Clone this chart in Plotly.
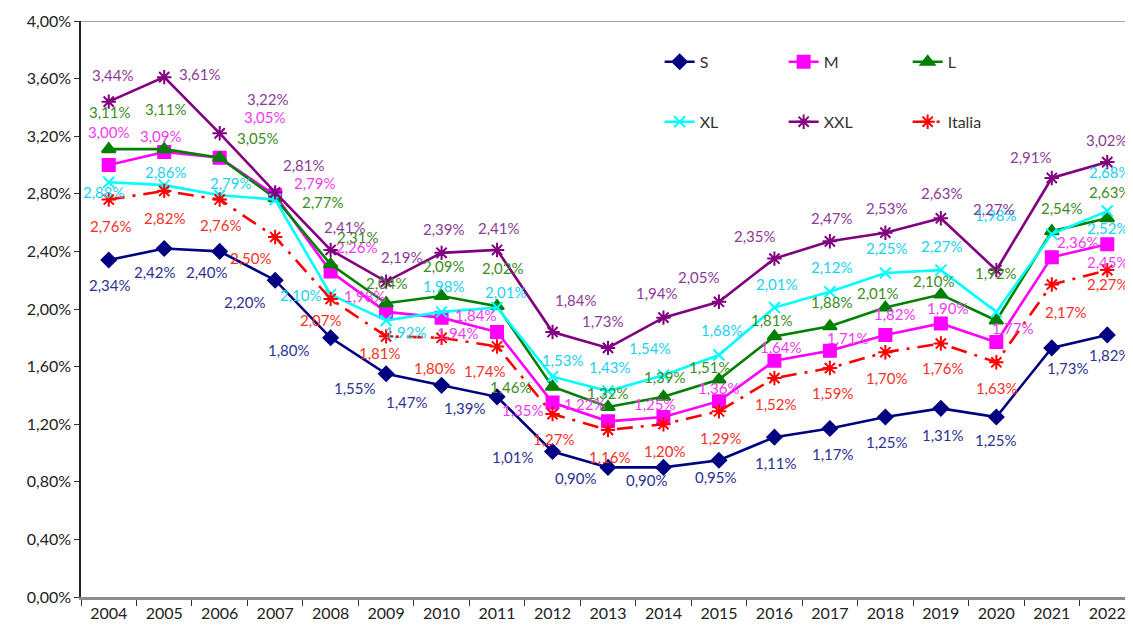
import plotly.graph_objects as go

years = [str(y) for y in range(2004, 2023)]

S = [2.34, 2.42, 2.40, 2.20, 1.80, 1.55, 1.47, 1.39, 1.01, 0.90, 0.90, 0.95, 1.11, 1.17, 1.25, 1.31, 1.25, 1.73, 1.82]
M = [3.00, 3.09, 3.05, 2.79, 2.26, 1.98, 1.94, 1.84, 1.35, 1.22, 1.25, 1.36, 1.64, 1.71, 1.82, 1.90, 1.77, 2.36, 2.45]
L = [3.11, 3.11, 3.05, 2.77, 2.31, 2.04, 2.09, 2.02, 1.46, 1.32, 1.39, 1.51, 1.81, 1.88, 2.01, 2.10, 1.92, 2.54, 2.63]
XL = [2.88, 2.86, 2.79, 2.76, 2.10, 1.92, 1.98, 2.01, 1.53, 1.43, 1.54, 1.68, 2.01, 2.12, 2.25, 2.27, 1.98, 2.52, 2.68]
XXL = [3.44, 3.61, 3.22, 2.81, 2.41, 2.19, 2.39, 2.41, 1.84, 1.73, 1.94, 2.05, 2.35, 2.47, 2.53, 2.63, 2.27, 2.91, 3.02]
ITALIA = [2.76, 2.82, 2.76, 2.50, 2.07, 1.81, 1.80, 1.74, 1.27, 1.16, 1.20, 1.29, 1.52, 1.59, 1.70, 1.76, 1.63, 2.17, 2.27]

y_tick_vals = [0.0, 0.4, 0.8, 1.2, 1.6, 2.0, 2.4, 2.8, 3.2, 3.6, 4.0]
y_tick_text = ["0,00%", "0,40%", "0,80%", "1,20%", "1,60%", "2,00%", "2,40%", "2,80%", "3,20%", "3,60%", "4,00%"]

# label offsets in pixels (dx right, dy down) -- styling only
off_S = [(1, 25), (-9, 23), (-13, 21), (-30, 22), (-42, 12), (-31, 14), (-35, 17), (-32, 11), (-40, 5), (-32, 11),
         (-16, 13), (-3, 17), (2, 26), (3, 25), (2, 25), (2, 27), (0, 23), (16, 20), (3, 20)]
off_M = [(0, -33), (-3, -16), (45, -41), (40, -12), (26, -25), (-21, -16), (16, 15), (-21, -17), (-30, 7), (-23, -17),
         (-8, -13), (0, -13), (7, -14), (18, -13), (10, -21), (7, -15), (17, -14), (26, -15), (1, 18)]
off_L = [(1, -37), (2, -40), (38, -20), (48, 4), (27, -27), (1, -20), (2, -30), (6, -38), (-42, 0), (0, -14),
         (2, -20), (-9, -13), (-2, -16), (2, -24), (-7, -15), (-7, -14), (0, -48), (10, -23), (3, -26)]
off_XL = [(-5, 10), (2, -13), (11, -12), None, (-30, 0), (20, 11), (2, -26), (9, -16), (10, -17), (2, -24),
          (-13, -27), (3, -25), (3, -24), (2, -25), (2, -25), (1, -24), (0, -97), (56, -6), (3, -39)]
off_XXL = [(4, -27), (36, -3), (48, -34), (29, -27), (14, -23), (16, -25), (2, -24), (2, -22), (23, -32), (-5, -27),
           (-6, -25), (-20, -25), (-19, -23), (2, -23), (2, -25), (1, -25), (-2, -61), (-21, -21), (0, -22)]
off_IT = [(2, 26), (1, 27), (1, 25), (-24, 21), (-10, 21), (-6, 17), (-7, 30), (-12, 25), (1, 25), (2, 27),
          (2, 27), (2, 27), (2, 26), (3, 25), (2, 26), (2, 24), (1, 26), (14, 27), (1, 14)]

FONT = "Lato"

series = [
    dict(name="S", data=S, color="#000080", lbl="#2E3192", symbol="diamond", size=11, dash="solid", off=off_S, legend="legend"),
    dict(name="M", data=M, color="#FF00FF", lbl="#F03CF0", symbol="square", size=12, dash="solid", off=off_M, legend="legend"),
    dict(name="L", data=L, color="#008000", lbl="#3C8C1E", symbol="triangle-up", size=12, dash="solid", off=off_L, legend="legend"),
    dict(name="XL", data=XL, color="#00FFFF", lbl="#19D2F0", symbol="x-thin-open", size=11, dash="solid", off=off_XL, legend="legend2"),
    dict(name="XXL", data=XXL, color="#800080", lbl="#8C3C96", symbol="asterisk-open", size=12, dash="solid", off=off_XXL, legend="legend2"),
    dict(name="Italia", data=ITALIA, color="#FF0000", lbl="#F53228", symbol="asterisk-open", size=12, dash="16px,8px,3px,8px", off=off_IT, legend="legend2"),
]

fig = go.Figure()
annotations = []
for s in series:
    fig.add_trace(go.Scatter(
        x=years, y=s["data"], name=s["name"], mode="lines+markers",
        line=dict(color=s["color"], width=2.6, dash=s["dash"]),
        marker=dict(symbol=s["symbol"], size=s["size"], color=s["color"],
                    line=dict(color=s["color"], width=2)),
        legend=s["legend"],
    ))
    for i, v in enumerate(s["data"]):
        o = s["off"][i]
        if o is None:
            continue
        annotations.append(dict(
            x=i, y=v, xref="x", yref="y", showarrow=False,
            text=f"{v:.2f}".replace(".", ",") + "%",
            xshift=o[0], yshift=-o[1],
            font=dict(family=FONT, size=15, color=s["lbl"]),
        ))

legend_common = dict(orientation="h", xanchor="left", yanchor="middle", entrywidth=79,
                     entrywidthmode="pixels", bgcolor="rgba(0,0,0,0)",
                     font=dict(family=FONT, size=16, color="#333333"), traceorder="normal")

fig.update_layout(
    width=1133, height=622,
    margin=dict(l=73, r=6, t=13, b=33, autoexpand=False),
    paper_bgcolor="white", plot_bgcolor="white",
    showlegend=True,
    legend=dict(x=0.549, y=0.929, **legend_common),
    legend2=dict(x=0.549, y=0.825, **legend_common),
    annotations=annotations,
    xaxis=dict(type="category", range=[-0.5, 18.5], showgrid=False,
               showline=True, linecolor="#8C8C8C", linewidth=3,
               ticks="outside", tickson="boundaries", ticklen=6, tickcolor="#333333",
               tickfont=dict(family=FONT, size=16, color="#222222")),
    yaxis=dict(range=[0, 4], showgrid=False, zeroline=False,
               showline=True, linecolor="#222222", linewidth=1.5,
               ticks="outside", ticklen=5, tickcolor="#333333",
               tickvals=y_tick_vals, ticktext=y_tick_text,
               tickfont=dict(family=FONT, size=16, color="#222222")),
    shapes=[dict(type="line", xref="paper", yref="y", x0=0, x1=1, y0=4, y1=4,
                 line=dict(color="#A6A6A6", width=2), layer="below")],
)

fig.write_html("out.html")
